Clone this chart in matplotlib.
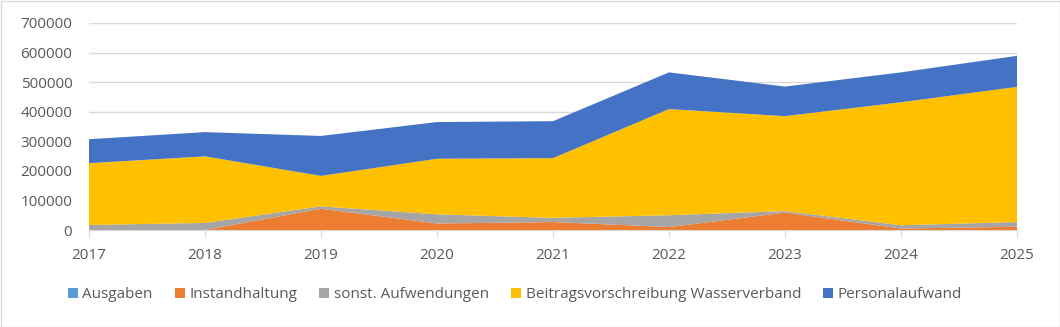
import matplotlib.pyplot as plt
import numpy as np
from matplotlib.patches import Rectangle

# DATA
years = [2017, 2018, 2019, 2020, 2021, 2022, 2023, 2024, 2025]
ausgaben = [0, 0, 0, 0, 0, 0, 0, 0, 0]
instandhaltung = [0, 0, 72000, 22000, 27000, 10000, 59000, 5000, 11000]
sonst = [17000, 24000, 8000, 31000, 14000, 40000, 5000, 11000, 16000]
beitrag = [209000, 225000, 103000, 188000, 202000, 359000, 321000, 416000, 457000]
personal = [81000, 82000, 135000, 124000, 125000, 124000, 100000, 101000, 105000]

labels = ['Ausgaben', 'Instandhaltung', 'sonst. Aufwendungen',
          'Beitragsvorschreibung Wasserverband', 'Personalaufwand']
colors = ['#5B9BD5', '#ED7D31', '#A5A5A5', '#FFC000', '#4472C4']

plt.rcParams['font.family'] = ['Open Sans', 'DejaVu Sans']
txt = '#595959'

fig = plt.figure(figsize=(10.6, 3.27), dpi=100)
ax = fig.add_axes([89/1060, 1 - 230/327, (1017-89)/1060, (230-23)/327])

ax.stackplot(years, ausgaben, instandhaltung, sonst, beitrag, personal,
             colors=colors, labels=labels, linewidth=0)

ax.set_xlim(2017, 2025)
ax.set_ylim(0, 700000)
ax.set_yticks(np.arange(0, 700001, 100000))
ax.set_yticklabels([str(v) for v in range(0, 700001, 100000)])
ax.set_xticks(years)
ax.grid(axis='y', color='#D9D9D9', linewidth=1)
ax.set_axisbelow(True)
for s in ['top', 'right', 'left']:
    ax.spines[s].set_visible(False)
ax.spines['bottom'].set_color('#D9D9D9')
ax.spines['bottom'].set_zorder(0)
ax.tick_params(axis='y', length=0, labelsize=11, labelcolor=txt, pad=12)
ax.tick_params(axis='x', length=5, color='#D9D9D9', labelsize=11, labelcolor=txt, pad=8)

leg = fig.legend(*ax.get_legend_handles_labels(), loc='center', ncol=5,
                 bbox_to_anchor=(515/1060, 1 - 295/327), frameon=False,
                 fontsize=11, handlelength=0.65, handleheight=0.65,
                 handletextpad=0.3, columnspacing=1.45)
for t in leg.get_texts():
    t.set_color(txt)

fig.patches.append(Rectangle((0.5/1060, 0.5/327), 1 - 1/1060, 1 - 1/327,
                             transform=fig.transFigure, fill=False,
                             edgecolor='#D9D9D9', linewidth=1))

fig.savefig('out.png', dpi=100)
